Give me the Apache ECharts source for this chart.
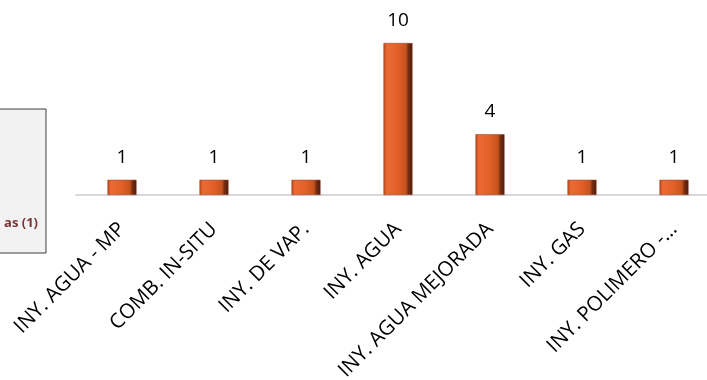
<!DOCTYPE html>
<html>
<head>
<meta charset="utf-8">
<script src="https://cdn.jsdelivr.net/npm/echarts@6/dist/echarts.min.js"></script>
<style>html,body{margin:0;padding:0;background:#fff;overflow:hidden;}#c{width:730px;height:380px;}</style>
</head>
<body>
<div id="c"></div>
<script>
var categories = ['INY. AGUA - MP', 'COMB. IN-SITU', 'INY. DE VAP.', 'INY. AGUA', 'INY. AGUA MEJORADA', 'INY. GAS', 'INY. POLIMERO -\u2026'];
var values = [1, 1, 1, 10, 4, 1, 1];
var legendText = 'as (1)';

var chart = echarts.init(document.getElementById('c'));
var barColor = new echarts.graphic.LinearGradient(0, 0, 1, 0, [
  {offset: 0, color: '#b84a1e'},
  {offset: 0.12, color: '#ec6a36'},
  {offset: 0.5, color: '#e25f28'},
  {offset: 0.78, color: '#c5521f'},
  {offset: 0.85, color: '#7a2e10'},
  {offset: 1, color: '#4a1a08'}
]);
chart.setOption({
  animation: false,
  grid: {left: 76, top: 43, width: 644, height: 152, containLabel: false, outerBoundsMode: 'none'},
  xAxis: {
    type: 'category',
    data: categories,
    axisLine: {lineStyle: {color: '#d9d9d9', width: 2}},
    axisTick: {show: false},
    axisLabel: {
      rotate: 45, interval: 0, margin: 31,
      fontFamily: 'Open Sans', fontSize: 20.5, color: '#000'
    }
  },
  yAxis: {type: 'value', min: 0, max: 10, show: false, splitLine: {show: false}},
  series: [{
    type: 'bar',
    data: values,
    barWidth: 29,
    itemStyle: {color: barColor, borderColor: '#8a3a18', borderWidth: 0.5},
    label: {show: true, position: 'top', distance: 13, fontFamily: 'Open Sans', fontSize: 19, color: '#000'}
  }],
  graphic: [
    {type: 'rect', shape: {x: -20, y: 109, width: 66, height: 144},
     style: {fill: '#f2f2f2', stroke: '#3f3f3f', lineWidth: 1}},
    {type: 'text', x: 38, y: 223,
     style: {text: legendText, align: 'right', verticalAlign: 'middle', fill: '#7a3535',
             font: 'bold 13px "Open Sans"'}}
  ]
});
</script>
</body>
</html>
